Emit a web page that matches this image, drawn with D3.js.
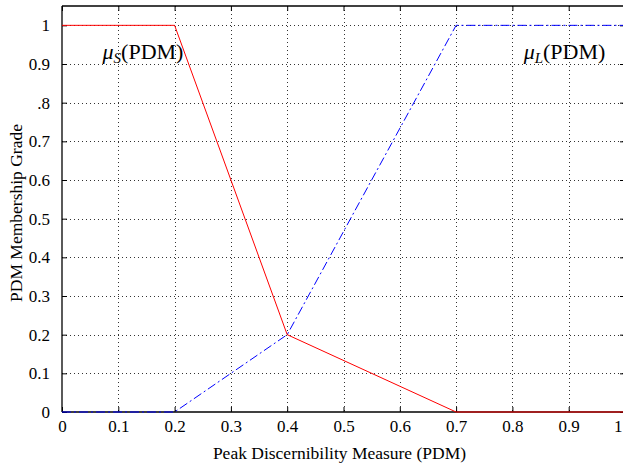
<!DOCTYPE html>
<html>
<head>
<meta charset="UTF-8" />
<title>PDM membership</title>
<script src="https://d3js.org/d3.v7.min.js"></script>
<style type="text/css">
body {
    margin: 0;
    background-color: white;
}
svg text {
    font-family: "Liberation Serif", "DejaVu Serif", serif;
    fill: black;
}
.grid line {
    stroke: #333;
    stroke-width: 1;
    stroke-dasharray: 1, 3;
}
</style>
</head>
<body>
<svg width="623" height="467" id="svg1"></svg>

<script type="text/javascript">
// membership functions of the peak discernibility measure
var pdm      = [0, 0.2, 0.4, 0.7, 1];
var muSmall  = [1, 1,   0.2, 0,   0];
var muLarge  = [0, 0,   0.2, 1,   1];

var xTicks = [0, 0.1, 0.2, 0.3, 0.4, 0.5, 0.6, 0.7, 0.8, 0.9, 1];
var xTickLabels = ['0', '0.1', '0.2', '0.3', '0.4', '0.5', '0.6', '0.7', '0.8', '0.9', '1'];
var yTicks = [0, 0.1, 0.2, 0.3, 0.4, 0.5, 0.6, 0.7, 0.8, 0.9, 1];
var yTickLabels = ['0', '0.1', '0.2', '0.3', '0.4', '0.5', '0.6', '0.7', '.8', '0.9', '1'];

var svg = d3.select("#svg1");
var mLeft = 62, mRight = 625, mTop = 6, mBottom = 412;

var x = d3.scaleLinear().domain([0, 1]).range([mLeft, mRight]);
var y = d3.scaleLinear().domain([0, 1.05]).range([mBottom, mTop]);

// grid
var grid = svg.append("g").attr("class", "grid");
grid.selectAll("line.v").data(xTicks.slice(1, -1)).enter().append("line")
    .attr("x1", function(d) { return Math.round(x(d)) + 0.5; })
    .attr("x2", function(d) { return Math.round(x(d)) + 0.5; })
    .attr("y1", mTop).attr("y2", mBottom);
grid.selectAll("line.h").data(yTicks.slice(1)).enter().append("line")
    .attr("y1", function(d) { return Math.round(y(d)) + 0.5; })
    .attr("y2", function(d) { return Math.round(y(d)) + 0.5; })
    .attr("x1", mLeft).attr("x2", mRight);

// axes, ticks inward on all four sides
var fmtX = function(d, i) { return xTickLabels[i]; };
var fmtY = function(d, i) { return yTickLabels[i]; };
var axB = svg.append("g").attr("transform", "translate(0," + mBottom + ")")
    .call(d3.axisBottom(x).tickValues(xTicks).tickFormat(fmtX).tickSizeInner(-5).tickSizeOuter(0).tickPadding(8));
var axT = svg.append("g").attr("transform", "translate(0," + mTop + ")")
    .call(d3.axisTop(x).tickValues(xTicks).tickFormat("").tickSizeInner(-5).tickSizeOuter(0));
var axL = svg.append("g").attr("transform", "translate(" + mLeft + ",0)")
    .call(d3.axisLeft(y).tickValues(yTicks).tickFormat(fmtY).tickSizeInner(-5).tickSizeOuter(0).tickPadding(12));
var axR = svg.append("g").attr("transform", "translate(" + mRight + ",0)")
    .call(d3.axisRight(y).tickValues(yTicks).tickFormat("").tickSizeInner(-5).tickSizeOuter(0));

[axB, axT, axL, axR].forEach(function(a) {
    a.select(".domain").attr("stroke", "black").attr("stroke-width", 1.3);
    a.selectAll(".tick line").attr("stroke", "black");
    a.selectAll("text").attr("font-size", 17).attr("font-family", "Liberation Serif");
});
axT.select(".domain").attr("d", "M" + mLeft + ",0H" + mRight);
axB.select(".domain").attr("d", "M" + mLeft + ",0H" + mRight);
axL.select(".domain").attr("d", "M0," + mTop + "V" + mBottom);
// last x label kept inside the picture
axB.selectAll(".tick text").filter(function(d) { return d === 1; })
    .attr("text-anchor", "end").attr("dx", -3);

// curves
var pts = function(ys) { return pdm.map(function(v, i) { return [v, ys[i]]; }); };
var line = d3.line().x(function(d) { return x(d[0]); }).y(function(d) { return y(d[1]); });

svg.append("path").datum(pts(muLarge)).attr("d", line)
    .attr("fill", "none").attr("stroke", "#0000ff").attr("stroke-width", 1)
    .attr("stroke-dasharray", "9,3,2,3");
svg.append("path").datum(pts(muSmall)).attr("d", line)
    .attr("fill", "none").attr("stroke", "#ff0000").attr("stroke-width", 1);

// curve labels
function muLabel(px, py, sub) {
    var t = svg.append("text").attr("x", px).attr("y", py).attr("font-size", 22);
    t.append("tspan").attr("font-style", "italic").text("\u03bc");
    t.append("tspan").attr("font-style", "italic").attr("font-size", 15).attr("dy", 4).text(sub);
    t.append("tspan").attr("dy", -4).text("(PDM)");
}
muLabel(x(0.072), y(0.912), "S");
muLabel(x(0.82), y(0.912), "L");

// axis titles
svg.append("text").attr("x", (mLeft + mRight) / 2 - 4).attr("y", 459)
    .attr("text-anchor", "middle").attr("font-size", 17.5)
    .text("Peak Discernibility Measure (PDM)");
svg.append("text").attr("transform", "translate(22," + ((mTop + mBottom) / 2 + 4) + ") rotate(-90)")
    .attr("text-anchor", "middle").attr("font-size", 17.5)
    .text("PDM Membership Grade");
</script>
</body>
</html>
